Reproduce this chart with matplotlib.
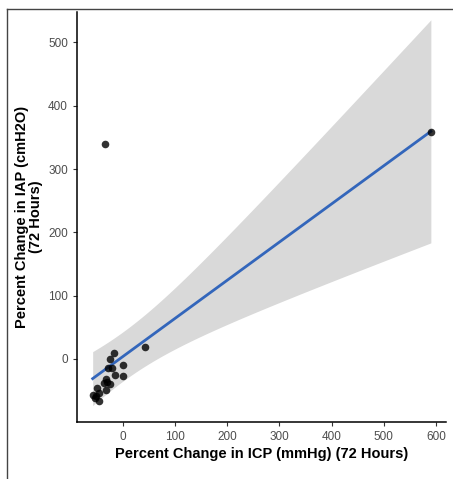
import numpy as np
import matplotlib
matplotlib.use("Agg")
import matplotlib.pyplot as plt
from matplotlib.lines import Line2D

# percent change values
icp_change = [-34, 590, 42, -18, -25, -0.4, 0, -16, -29, -21, -33, -37,
              -24.5, -31, -33, -49, -46, -51, -58, -46, -53]
iap_change = [340, 359, 19.5, 10, 0, -10, -27, -25, -15, -15, -32, -38,
              -40, -37, -49, -46, -53, -58, -57, -66, -61]
xticks = [0, 100, 200, 300, 400, 500, 600]
yticks = [0, 100, 200, 300, 400, 500]

plt.rcParams['font.family'] = ['Liberation Sans', 'DejaVu Sans']

x = np.array(icp_change, dtype=float)
y = np.array(iap_change, dtype=float)

# linear fit with 95% confidence band (like geom_smooth(method="lm"))
n = len(x)
b1, b0 = np.polyfit(x, y, 1)
resid = y - (b0 + b1 * x)
s = np.sqrt(np.sum(resid ** 2) / (n - 2))
xs = np.linspace(x.min(), x.max(), 200)
se = s * np.sqrt(1.0 / n + (xs - x.mean()) ** 2 / np.sum((x - x.mean()) ** 2))
tval = 2.093  # t(0.975, df=19)
fit = b0 + b1 * xs

fig = plt.figure(figsize=(4.53, 4.79), dpi=100)
ax = fig.add_axes([0.170, 0.119, 0.8145, 0.856])

ax.fill_between(xs, fit - tval * se, fit + tval * se, color='#d9d9d9', lw=0, zorder=1)
ax.plot(xs, fit, color='#3366bb', lw=2, zorder=2)
ax.scatter(x, y, s=30, color='black', alpha=0.8, lw=0, zorder=3)

ax.set_xlim(-88, 619)
ax.set_ylim(-99.5, 548)
ax.set_xticks(xticks)
ax.set_yticks(yticks)
ax.tick_params(labelsize=8.5, labelcolor='#4d4d4d', length=3, width=0.8, color='#333333')

for side in ['top', 'right']:
    ax.spines[side].set_visible(False)
for side in ['left', 'bottom']:
    ax.spines[side].set_linewidth(1.1)
    ax.spines[side].set_color('black')

ax.set_xlabel('Percent Change in ICP (mmHg) (72 Hours)', fontsize=10.5, fontweight='bold', labelpad=3)
ax.set_ylabel('Percent Change in IAP (cmH2O)\n(72 Hours)', fontsize=10.5, fontweight='bold', labelpad=4, linespacing=0.95)

# thin frame around the picture on the left and top
fig.add_artist(Line2D([0.016, 0.016], [0, 0.981], transform=fig.transFigure, color='#444444', lw=1))
fig.add_artist(Line2D([0.016, 1], [0.981, 0.981], transform=fig.transFigure, color='#444444', lw=1))

fig.savefig('out.png', dpi=100)
